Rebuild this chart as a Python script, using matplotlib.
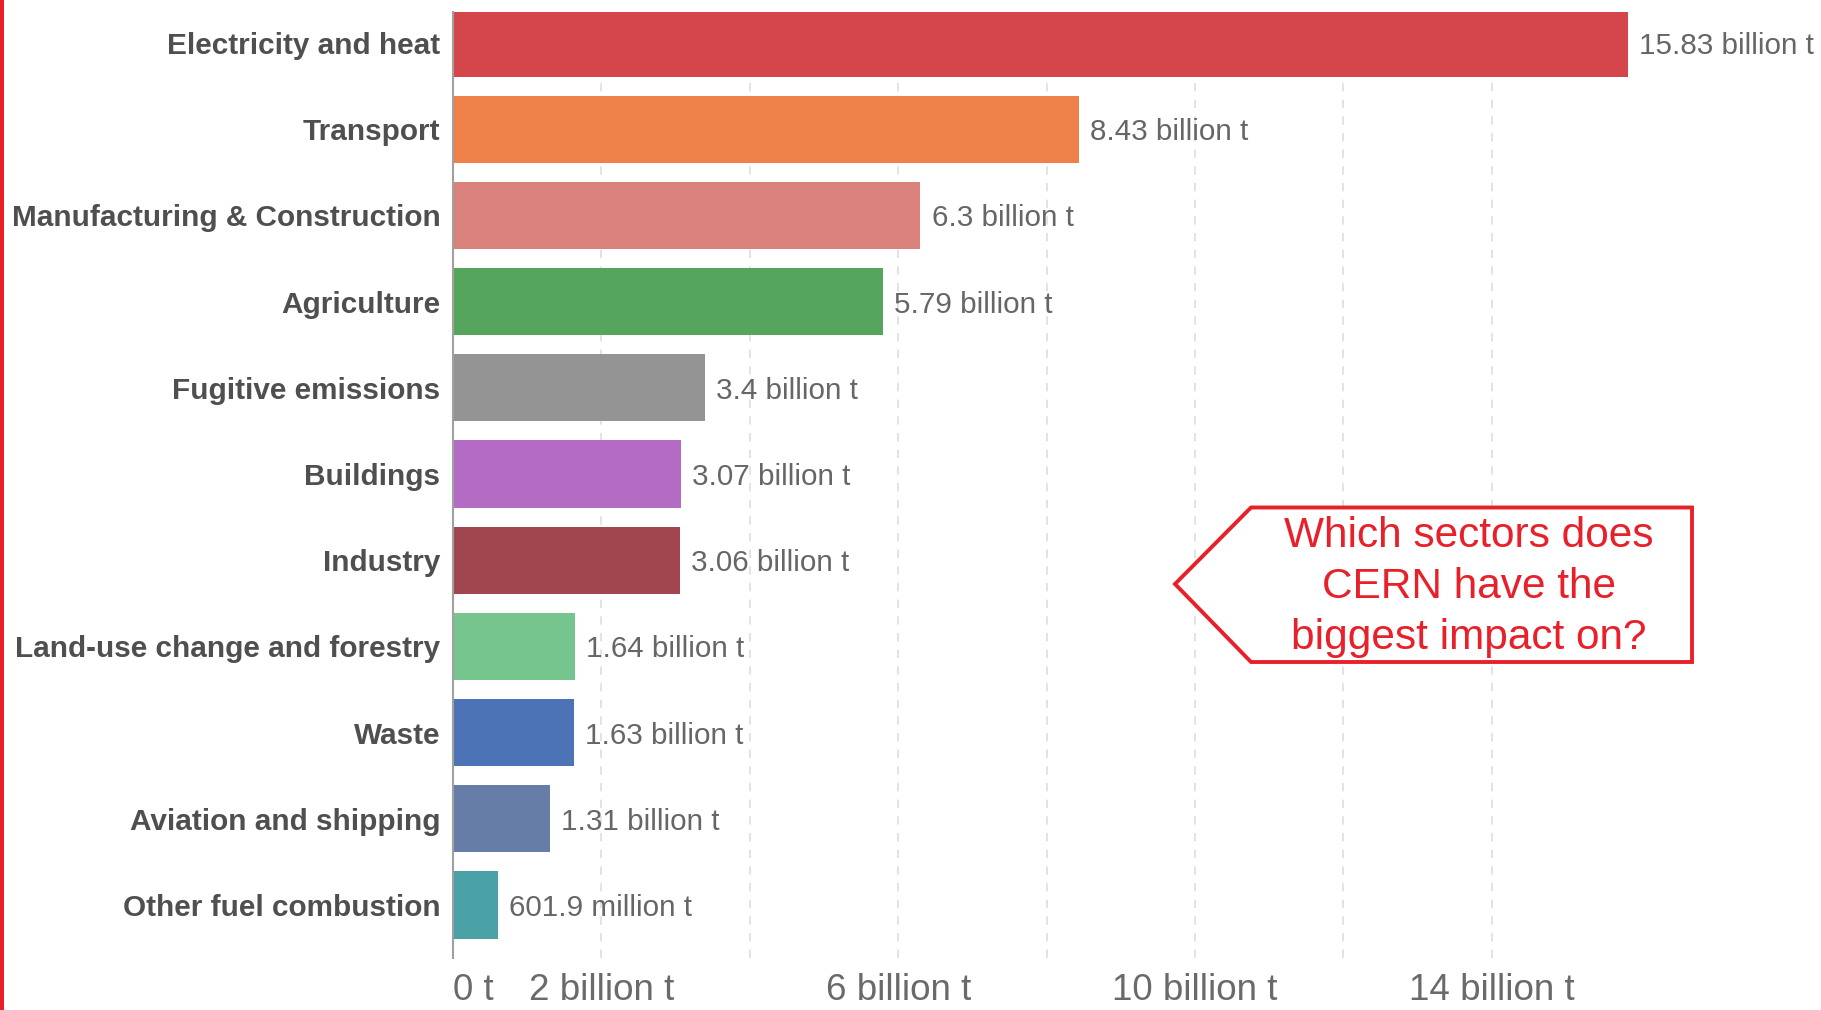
import matplotlib
matplotlib.use("Agg")
import matplotlib.pyplot as plt
from matplotlib.patches import Polygon, Rectangle
from matplotlib.transforms import blended_transform_factory

SECTORS = ["Electricity and heat", "Transport", "Manufacturing & Construction",
           "Agriculture", "Fugitive emissions", "Buildings", "Industry",
           "Land-use change and forestry", "Waste", "Aviation and shipping",
           "Other fuel combustion"]
EMISSIONS = [15.83, 8.43, 6.3, 5.79, 3.4, 3.07, 3.06, 1.64, 1.63, 1.31, 0.6019]  # billion t
COLORS = ["#D4464B", "#EE8049", "#D9817A", "#55A65C", "#949494", "#B36BC4",
          "#A1454E", "#76C48E", "#4C73B5", "#667DA8", "#49A1A5"]
TICKS = [0, 2, 6, 10, 14]
TICK_LABELS = ["0 t", "2 billion t", "6 billion t", "10 billion t", "14 billion t"]
GRID = [2, 4, 6, 8, 10, 12, 14]

W, H = 1821, 1010
RED = "#E8202A"


def fmt(v):
    if v >= 1:
        return f"{v:g} billion t"
    return f"{v * 1000:g} million t"


fig = plt.figure(figsize=(W / 100, H / 100), dpi=100)
ax = fig.add_axes([453 / W, 1 - 958 / H, 1 - 453 / W, (958 - 11.6) / H])

y = list(range(len(SECTORS)))
ax.barh(y, EMISSIONS, height=0.78, color=COLORS, zorder=2)
for g in GRID:
    ax.axvline(g, color="#DEDEDE", lw=1.2, ls=(0, (5, 5)), zorder=1)

for yi, v in zip(y, EMISSIONS):
    ax.annotate(fmt(v), (v, yi), xytext=(8, 0), textcoords="offset points",
                va="center_baseline", ha="left", fontsize=21.3, color="#666666",
                family="Liberation Sans")

ax.set_xlim(0, (W - 453) / 74.2)
ax.set_ylim(10.615, -0.364)
ax.set_yticks(y, labels=SECTORS, fontsize=21.4, fontweight="bold",
              color="#4F4F4F", family="Liberation Sans")
ax.tick_params(axis="y", length=0, pad=9)
ax.set_xticks([])
for s in ["top", "right", "bottom"]:
    ax.spines[s].set_visible(False)
ax.spines["left"].set_color("#A0A0A0")
ax.spines["left"].set_linewidth(1.5)

# x tick labels under the axis, kept just inside the bottom edge
trans = blended_transform_factory(ax.transData, fig.transFigure)
for t, lab in zip(TICKS, TICK_LABELS):
    ax.text(t, 1 - 1008.5 / H, lab, transform=trans, ha="left" if t == 0 else "center",
            va="bottom", fontsize=26.5, color="#6A6A6A", family="Liberation Sans")

# red stripe on the left edge
fig.add_artist(Rectangle((0, 0), 4 / W, 1, transform=fig.transFigure,
                         color=RED, lw=0))

# callout arrow box
pts = [(1175, 584), (1251, 507.5), (1692, 507.5), (1692, 662), (1251, 662)]
fig.add_artist(Polygon([(x / W, 1 - yy / H) for x, yy in pts], closed=True,
                       transform=fig.transFigure, fill=True, facecolor="white",
                       edgecolor=RED, lw=2.8, joinstyle="miter"))
fig.text(1469 / W, 1 - 587 / H, "Which sectors does\nCERN have the\nbiggest impact on?",
         ha="center", va="center", fontsize=30.5, color=RED, linespacing=1.35,
         family="Liberation Sans")

fig.savefig("out.png", dpi=100)
